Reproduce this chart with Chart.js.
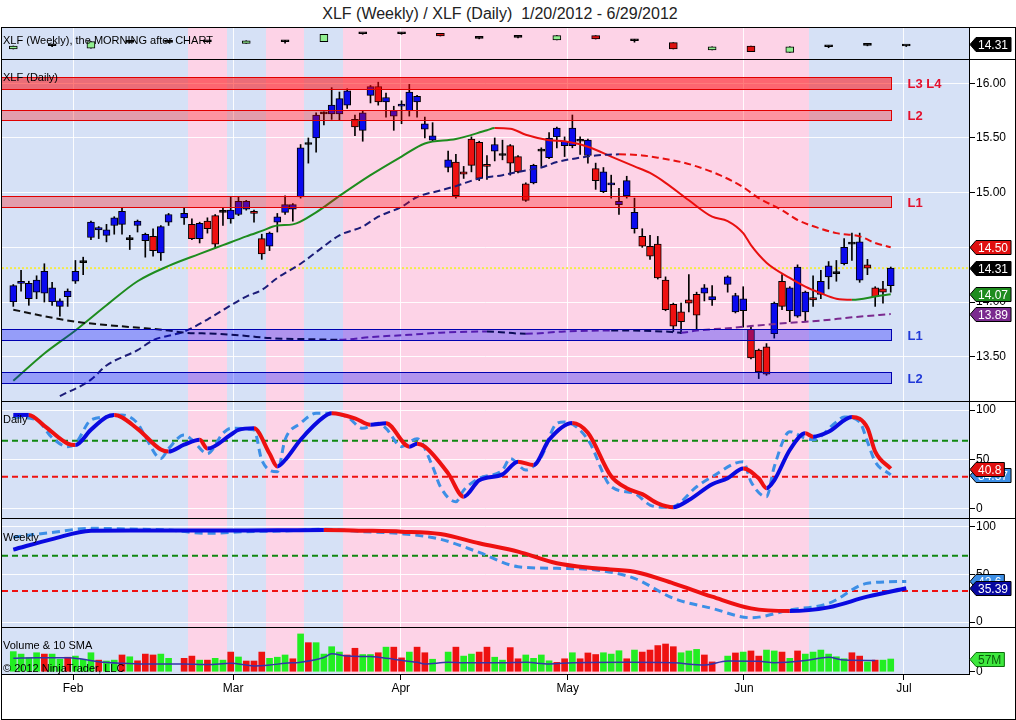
<!DOCTYPE html>
<html lang="en">
<head>
<meta charset="UTF-8">
<title>XLF (Weekly) / XLF (Daily)</title>
<script src="https://cdn.jsdelivr.net/npm/chart.js"></script>
<style>
    body { margin: 0; background: #fff; font-family: "Liberation Sans", Arial, sans-serif; }
    #wrap { position: relative; width: 1016px; height: 720px; overflow: hidden; }
    .pane { position: absolute; left: 2px; width: 1013px; }
    .sep { position: absolute; left: 1px; width: 1014px; height: 1px; background: #000; z-index: 5; }
    .lbl { position: absolute; left: 3px; font-size: 11px; line-height: 12px; color: #000; white-space: nowrap; z-index: 6; }
    #frame { position: absolute; left: 1px; top: 27px; width: 1015px; height: 693px; box-sizing: border-box; border: 1px solid #000; z-index: 5; pointer-events: none; }
    #title { position: absolute; left: 0; top: 5px; width: 1000px; text-align: center; font-size: 16px; color: #222; }
</style>
</head>
<body>
<div id="wrap">
    <div id="title">XLF (Weekly) / XLF (Daily)&nbsp; 1/20/2012 - 6/29/2012</div>
    <div class="pane" style="top:17px;height:52px"><canvas id="cWeek"></canvas></div>
    <div class="pane" style="top:49px;height:362px"><canvas id="cPrice"></canvas></div>
    <div class="pane" style="top:391px;height:137px"><canvas id="cDs"></canvas></div>
    <div class="pane" style="top:508px;height:129px"><canvas id="cWs"></canvas></div>
    <div class="pane" style="top:617px;height:103px"><canvas id="cVol"></canvas></div>
    <div id="frame"></div>
    <div class="sep" style="top:59px"></div>
    <div class="sep" style="top:401px"></div>
    <div class="sep" style="top:518px"></div>
    <div class="sep" style="top:627px"></div>
    <div class="lbl" style="top:34px">XLF (Weekly), the MORNING after CHART</div>
    <div class="lbl" style="top:71px">XLF (Daily)</div>
    <div class="lbl" style="top:413px">Daily</div>
    <div class="lbl" style="top:531px">Weekly</div>
    <div class="lbl" style="top:639px">Volume &amp; 10 SMA</div>
    <div class="lbl" style="top:662px">&copy; 2012 NinjaTrader, LLC</div>
</div>

<script>
    // calendar: one slot per weekday from 1/20/2012, holidays stay as empty slots
    const firstDay = '2012-01-20';
    const lastDay = '2012-06-27';
    const lastWeek = '2012-06-29';
    const holidays = ['2012-02-20', '2012-04-06', '2012-05-28'];

    const monthPos = [7.7, 28.3, 49.9, 71.4, 94.1, 114.7];
    const monthNames = ['Feb', 'Mar', 'Apr', 'May', 'Jun', 'Jul'];
    const priceTicks = [13.5, 14.0, 14.5, 15.0, 15.5, 16.0];
    const stochTicks = [0, 50, 100];
    const volTicks = [0];

    // daily XLF
    const dOpen = [14.00, 14.17, 14.03, 14.09, 14.08, 14.00, 13.96, 14.05, 14.19, 14.36, 14.59, 14.66, 14.61, 14.70, 14.71, 14.57, 14.70, 14.56, 14.60, 14.45, 14.73,
        14.77, 14.71, 14.58, 14.74, 14.79, 14.82, 14.76, 14.80, 14.85, 14.83, 14.58, 14.51, 14.73, 14.82, 14.85, 14.96, 15.44, 15.50, 15.72, 15.72, 15.72, 15.80, 15.67, 15.57, 15.89, 15.97, 15.83, 15.70, 15.79, 15.75, 15.83, 15.58, 15.48,
        15.23, 15.28, 15.19, 15.49, 15.46, 15.26, 15.38, 15.34, 15.43, 15.33, 15.08, 15.09, 15.38, 15.32, 15.51, 15.43, 15.43, 15.47, 15.34, 15.22, 15.01, 15.07, 14.89, 14.97, 14.67, 14.60, 14.51, 14.53, 14.20, 13.98, 13.91, 14.02, 14.07, 14.08, 14.02,
        14.16, 13.91, 13.92, 13.75, 13.56, 13.59, 13.71, 14.19, 13.92, 13.87, 13.91, 14.04, 14.07, 14.23, 14.26, 14.35, 14.53, 14.20, 14.34, 14.13, 14.12, 14.15];
    const dHigh = [14.16, 14.29, 14.19, 14.24, 14.35, 14.18, 14.03, 14.12, 14.38, 14.41, 14.74, 14.69, 14.71, 14.78, 14.86, 14.61, 14.75, 14.63, 14.67, 14.70, 14.81,
        14.86, 14.76, 14.73, 14.77, 14.80, 14.86, 14.96, 14.96, 14.93, 14.84, 14.62, 14.64, 14.81, 14.97, 14.90, 15.44, 15.50, 15.73, 15.74, 15.96, 15.92, 15.95, 15.71, 15.75, 15.98, 16.01, 15.91, 15.79, 15.84, 15.99, 15.89, 15.69, 15.64,
        15.38, 15.35, 15.24, 15.51, 15.47, 15.34, 15.50, 15.48, 15.44, 15.34, 15.09, 15.26, 15.41, 15.55, 15.60, 15.51, 15.71, 15.51, 15.49, 15.27, 15.23, 15.16, 15.04, 15.15, 14.95, 14.67, 14.61, 14.60, 14.23, 13.99, 13.99, 14.25, 14.09, 14.16, 14.15,
        14.24, 14.08, 14.14, 13.78, 13.57, 13.62, 14.00, 14.25, 14.14, 14.34, 14.10, 14.24, 14.29, 14.37, 14.38, 14.58, 14.63, 14.63, 14.39, 14.14, 14.19, 14.32];
    const dLow = [13.96, 14.10, 13.97, 14.03, 14.00, 13.97, 13.87, 13.96, 14.17, 14.25, 14.57, 14.58, 14.55, 14.62, 14.62, 14.48, 14.64, 14.41, 14.42, 14.38, 14.70,
        14.71, 14.57, 14.54, 14.63, 14.49, 14.70, 14.72, 14.79, 14.84, 14.73, 14.39, 14.47, 14.64, 14.80, 14.74, 14.95, 15.27, 15.37, 15.62, 15.67, 15.66, 15.77, 15.52, 15.47, 15.82, 15.80, 15.69, 15.57, 15.63, 15.70, 15.69, 15.50, 15.47,
        15.19, 14.95, 15.13, 15.19, 15.11, 15.12, 15.29, 15.30, 15.16, 15.18, 14.92, 15.08, 15.24, 15.31, 15.41, 15.33, 15.41, 15.35, 15.27, 15.03, 15.00, 14.95, 14.80, 14.95, 14.63, 14.50, 14.39, 14.21, 13.92, 13.73, 13.71, 13.91, 13.75, 14.01, 13.97,
        14.09, 13.90, 13.77, 13.48, 13.30, 13.33, 13.67, 13.93, 13.82, 13.86, 13.82, 13.96, 14.03, 14.12, 14.19, 14.34, 14.38, 14.18, 14.25, 13.96, 13.99, 14.09];
    const dClose = [14.15, 14.19, 14.17, 14.20, 14.28, 14.13, 14.01, 14.10, 14.28, 14.36, 14.73, 14.68, 14.66, 14.77, 14.83, 14.57, 14.74, 14.62, 14.47, 14.69, 14.80,
        14.81, 14.58, 14.72, 14.67, 14.53, 14.82, 14.84, 14.92, 14.92, 14.81, 14.44, 14.63, 14.78, 14.89, 14.89, 15.41, 15.44, 15.71, 15.72, 15.80, 15.86, 15.93, 15.60, 15.73, 15.97, 15.83, 15.87, 15.75, 15.81, 15.92, 15.88, 15.63, 15.52,
        15.30, 14.97, 15.17, 15.25, 15.13, 15.24, 15.44, 15.34, 15.27, 15.19, 14.93, 15.25, 15.38, 15.50, 15.59, 15.47, 15.59, 15.47, 15.48, 15.11, 15.19, 15.09, 14.92, 15.11, 14.82, 14.51, 14.42, 14.22, 13.93, 13.78, 13.82, 13.99, 13.88, 14.13, 14.05,
        14.23, 14.06, 14.03, 13.49, 13.36, 13.34, 13.99, 13.96, 14.13, 14.32, 14.09, 14.02, 14.19, 14.33, 14.26, 14.50, 14.53, 14.55, 14.31, 14.05, 14.09, 14.31];
    const dVol = [90, 79, 63, 85, 79, 79, 56, 65, 70, 56, 85, 52, 48, 52, 75, 67, 49, 79, 75, 79, 60,
        60, 70, 52, 52, 60, 52, 88, 66, 48, 48, 88, 60, 65, 75, 58, 169, 130, 130, 79, 112, 88, 75, 105, 77, 77, 85, 110, 110, 62, 88, 110, 85, 56,
        88, 110, 70, 79, 88, 110, 65, 52, 108, 58, 75, 60, 75, 49, 42, 58, 85, 58, 84, 77, 85, 79, 94, 58, 97, 88, 97, 117, 124, 112, 85, 93, 100, 75, 44,
        70, 84, 88, 93, 70, 97, 93, 88, 60, 93, 79, 88, 97, 79, 67, 58, 85, 70, 44, 52, 52, 57];
    const dVolDir = ['g', 'g', 'g', 'g', 'r', 'g', 'g', 'r', 'g', 'g', 'g', 'r', 'g', 'g', 'r', 'g', 'r', 'r', 'r', 'g', 'g',
        'r', 'r', 'g', 'r', 'g', 'g', 'r', 'g', 'r', 'r', 'r', 'g', 'g', 'g', 'r', 'g', 'r', 'g', 'g', 'g', 'g', 'r', 'r', 'g', 'g', 'r', 'g', 'r', 'r', 'g', 'r', 'r', 'g',
        'g', 'r', 'g', 'g', 'r', 'r', 'g', 'g', 'r', 'r', 'g', 'g', 'g', 'g', 'r', 'r', 'g', 'r', 'r', 'r', 'g', 'g', 'g', 'r', 'g', 'r', 'r', 'r', 'r', 'r', 'g', 'g', 'g', 'r', 'r',
        'g', 'r', 'g', 'r', 'r', 'g', 'g', 'r', 'g', 'r', 'g', 'g', 'g', 'g', 'g', 'g', 'r', 'r', 'g', 'r', 'g', 'g'];

    // moving averages on the daily price (slot, value)
    const ma20Slot = [0, 4, 8, 12, 16, 20, 24, 27, 30, 32, 34, 36, 39, 42, 46, 50, 53, 57, 61, 62, 64, 66, 69, 71, 74, 77, 80, 82, 84, 87, 90, 92, 94, 95, 97, 100, 102, 104, 106, 108, 109, 111, 113];
    const ma20Val = [13.28, 13.53, 13.74, 13.97, 14.19, 14.33, 14.44, 14.52, 14.60, 14.65, 14.70, 14.71, 14.82, 14.97, 15.16, 15.33, 15.45, 15.49, 15.57, 15.59, 15.585, 15.53, 15.48, 15.47, 15.42, 15.33, 15.24, 15.18, 15.09, 14.93, 14.78, 14.74, 14.63, 14.52, 14.36, 14.22, 14.14, 14.08, 14.03, 14.02, 14.025, 14.05, 14.07];
    const ma50Slot = [6, 10, 12, 16, 18, 22, 25, 28, 30, 32, 34, 37, 40, 42, 45, 47, 50, 52, 55, 57, 60, 63, 65, 68, 70, 73, 75, 78, 81, 83, 86, 88, 91, 94, 96, 99, 101, 104, 106, 109, 111, 113];
    const ma50Val = [13.14, 13.29, 13.42, 13.56, 13.65, 13.73, 13.84, 13.97, 14.05, 14.11, 14.22, 14.35, 14.51, 14.61, 14.69, 14.78, 14.87, 14.96, 15.02, 15.06, 15.13, 15.16, 15.19, 15.23, 15.28, 15.32, 15.34, 15.35, 15.34, 15.32, 15.28, 15.24, 15.16, 15.05, 14.95, 14.84, 14.75, 14.67, 14.63, 14.60, 14.54, 14.50];
    const ma200Slot = [0, 4, 8, 12, 17, 20, 22, 26, 30, 33, 38, 42, 46, 51, 55, 61, 66, 71, 77, 84, 86, 88, 92, 95, 100, 104, 108, 113];
    const ma200Val = [13.93, 13.87, 13.82, 13.79, 13.76, 13.74, 13.72, 13.71, 13.69, 13.67, 13.66, 13.655, 13.68, 13.70, 13.72, 13.73, 13.71, 13.73, 13.74, 13.73, 13.72, 13.74, 13.76, 13.78, 13.81, 13.83, 13.86, 13.89];

    // support / resistance zones
    const zoneName = ['L3', 'L4', 'L2', 'L1', 'L1', 'L2'];
    const zoneSide = ['R', 'R', 'R', 'R', 'B', 'B'];
    const zoneLo = [15.95, 15.95, 15.66, 14.87, 13.65, 13.26];
    const zoneHi = [16.06, 16.06, 15.76, 14.97, 13.75, 13.36];
    const zoneEnd = 113;

    // daily stochastics
    const dsDSlot = [0, 2, 4, 7, 8, 10, 12, 13, 16, 19, 20, 22, 24, 25, 28, 29, 31, 33, 34, 35, 37, 40, 41, 44, 46, 48, 51, 52, 53, 56, 58, 60, 63, 65, 67, 69, 72, 74, 77, 79, 81, 83, 85, 87, 90, 92, 94, 96, 97, 98, 100, 102, 103, 105, 108, 110, 111, 113];
    const dsDVal = [95, 95, 84, 66, 64.6, 80, 93, 95, 81, 60, 58, 65, 70, 61, 75, 80, 81.5, 56, 43, 49.5, 70, 93, 96.7, 91.6, 85, 86.6, 63, 66, 63, 36, 12.4, 29, 35, 47.8, 44.4, 70, 87, 77, 33, 21, 15, 5.7, 1.7, 9, 25, 31, 41, 31, 21, 29, 59.6, 76.5, 73, 78, 93, 82, 58, 40.8];
    const dsKSlot = [0, 3, 5, 7, 8, 10, 12, 14, 16, 17, 19, 20, 22, 23, 25, 27, 28, 31, 32, 34, 35, 37, 39, 41, 43, 45, 47, 48, 50, 52, 54, 55, 57, 58, 60, 63, 64, 66, 68, 70, 71, 74, 77, 80, 82, 84, 85, 88, 90, 94, 95, 97, 98, 100, 102, 103, 106, 107, 109, 110, 111, 113];
    const dsKVal = [93, 90, 72, 63, 66, 90, 93, 95, 86.6, 73, 51, 61, 74.7, 70, 56, 76.5, 81.5, 80, 49.5, 37.7, 70, 86.6, 96.7, 96.7, 93, 81.5, 86.6, 81.5, 63, 71, 43, 22.5, 7.4, 19, 31, 39.4, 51, 39.4, 52.8, 86.6, 88, 70, 22.5, 15.8, 4, 1.7, 2.3, 22.5, 32.6, 47.8, 27.6, 12.4, 42.7, 78, 71.4, 70, 88, 93, 88, 68, 47.8, 34.57];
    const dailyLevels = [69, 32.5];

    // weekly XLF and weekly stochastics (one value per Friday)
    const wOpen = [13.52, 14.04, 13.63, 14.58, 14.58, 14.67, 14.42, 14.67, 14.67, 15.94, 15.94, 16.01, 15.21, 15.37, 14.94, 15.63, 14.83, 14.52, 13.36, 13.99, 12.99, 13.88, 14.10, 13.99];
    const wHigh = [13.99, 14.20, 14.68, 14.66, 14.66, 14.75, 14.83, 14.90, 15.85, 16.02, 16.10, 16.01, 15.29, 15.45, 15.63, 15.63, 15.06, 14.52, 13.88, 13.99, 13.88, 14.04, 14.18, 14.07];
    const wLow = [13.52, 13.88, 13.63, 14.50, 14.50, 14.59, 14.42, 14.44, 14.67, 15.86, 15.86, 15.58, 15.13, 15.29, 14.94, 15.10, 14.60, 13.52, 13.36, 13.09, 12.99, 13.72, 14.02, 13.91];
    const wClose = [13.99, 14.04, 14.68, 14.58, 14.58, 14.67, 14.83, 14.67, 15.85, 15.94, 15.94, 15.58, 15.21, 15.37, 15.63, 15.10, 14.83, 13.52, 13.88, 13.09, 13.88, 13.88, 14.10, 13.99];
    const wsD = [76, 87, 95.8, 96, 96, 96, 96, 96.2, 96.5, 95.8, 94.8, 92.3, 82.6, 73.8, 61.6, 56.3, 52.8, 40.6, 26.6, 14.3, 11.5, 15.4, 26.6, 35.39];
    const wsK = [89, 94, 98.3, 97.5, 96.5, 93, 94.8, 95.5, 97.3, 94.8, 92.6, 86.8, 73, 58, 56.3, 54.6, 45.8, 24.9, 14.3, 4.5, 12.6, 19.6, 40.6, 42.6];
    const weeklyLevels = [69.5, 32.5];
    const weekShade = ['b', 'b', 'b', 'b', 'b', 'p', 'b', 'p', 'b', 'p', 'p', 'p', 'p', 'p', 'p', 'p', 'p', 'p', 'p', 'p', 'p', 'b', 'b', 'b'];

    // volume 10 SMA (slot, value in millions)
    const vsmaSlot = [0, 3, 7, 9, 11, 14, 17, 20, 22, 25, 28, 31, 33, 35, 37, 40, 41, 43, 46, 47, 49, 52, 53, 56, 58, 63, 66, 69, 72, 79, 85, 89, 92, 96, 98, 102, 105, 107, 111];
    const vsmaVal = [60, 63, 63, 56, 45, 38, 35, 35, 35, 32, 38, 26, 30, 38, 43, 64, 80, 70, 68, 65, 56, 42, 35, 42, 40, 40, 42, 35, 40, 42, 40, 30, 48, 47, 40, 50, 65, 52, 50];

    function weekdaySlots(from, to, skip) {
        const out = [];
        let d = new Date(from + 'T00:00:00Z');
        const end = new Date(to + 'T00:00:00Z');
        let slot = 0;
        while (d <= end) {
            const wd = d.getUTCDay();
            if (wd !== 0 && wd !== 6) {
                if (!skip.includes(d.toISOString().slice(0, 10))) out.push(slot);
                slot++;
            }
            d = new Date(d.getTime() + 86400000);
        }
        return out;
    }
    const dSlot = weekdaySlots(firstDay, lastDay, holidays);
    const wSlot = weekdaySlots(firstDay, lastWeek, []).filter(s => s % 5 === 0);

    const xMin = -1.455, xMax = 123.08;
    const blueBg = '#d6e1f6', pinkBg = '#fdd3e7';
    const FONT = '"Liberation Sans", Arial, sans-serif';

    Chart.defaults.font.family = FONT;
    Chart.defaults.font.size = 12;
    Chart.defaults.color = '#000';
    Chart.defaults.animation = false;
    Chart.defaults.plugins.legend.display = false;
    Chart.defaults.plugins.tooltip.enabled = false;
    Chart.defaults.elements.point.radius = 0;

    const pts = (xs, ys) => xs.map((x, i) => ({x: x, y: ys[i]}));
    const flat = (v) => [{x: xMin, y: v}, {x: xMax, y: v}];
    const slope = (up, down) => ({borderColor: c => c.p1.parsed.y >= c.p0.parsed.y ? up : down});

    function candles(slots, o, h, l, c, upCol, downCol, width) {
        const fill = o.map((v, i) => c[i] > v ? upCol : (c[i] < v ? downCol : '#000'));
        return [
            {type: 'bar', data: slots.map((s, i) => ({x: s, y: [o[i], c[i]]})), backgroundColor: fill,
                borderColor: '#000', borderWidth: 1, borderSkipped: false, barThickness: width, minBarLength: 2, grouped: false, order: 2},
            {type: 'bar', data: slots.map((s, i) => ({x: s, y: [l[i], h[i]]})), backgroundColor: '#000',
                barThickness: 1, grouped: false, order: 3}
        ];
    }

    function xAxis(show) {
        return {
            type: 'linear', min: xMin, max: xMax, offset: false,
            afterBuildTicks: s => { s.ticks = monthPos.map(v => ({value: v})); },
            ticks: {display: show, autoSkip: false, maxRotation: 0, padding: 1, callback: (v, i) => monthNames[i]},
            grid: {color: 'rgba(255,255,255,0.9)', offset: false, drawTicks: show, tickLength: 6, tickColor: '#000'},
            border: {display: show, color: '#000'},
            afterFit: s => { s.height = show ? 46 : 0; }
        };
    }

    function yAxis(min, max, ticks, fmt, grid) {
        return {
            type: 'linear', position: 'right', min: min, max: max,
            afterBuildTicks: s => { s.ticks = ticks.map(v => ({value: v})); },
            ticks: {display: ticks.length > 0, padding: 1, callback: fmt},
            grid: {color: grid ? 'rgba(255,255,255,0.9)' : 'rgba(0,0,0,0)', drawTicks: ticks.length > 0, tickLength: 6, tickColor: '#000'},
            border: {color: '#000'},
            afterFit: s => { s.width = 46; }
        };
    }

    const shadePlugin = {
        id: 'shade',
        beforeDraw(chart) {
            const {ctx, chartArea: a, scales: {x}} = chart;
            ctx.save();
            weekShade.forEach((s, k) => {
                const l = k === 0 ? a.left : Math.round(x.getPixelForValue(wSlot[k] - 2.5));
                const r = k === weekShade.length - 1 ? a.right : Math.round(x.getPixelForValue(wSlot[k] + 2.5));
                ctx.fillStyle = s === 'p' ? pinkBg : blueBg;
                ctx.fillRect(l, a.top, r - l, a.bottom - a.top);
            });
            ctx.restore();
        }
    };

    function tagPlugin(tags) {
        return {
            id: 'tags',
            afterDraw(chart) {
                const ctx = chart.ctx, ys = chart.scales.y, x0 = chart.chartArea.right + 1;
                ctx.save();
                ctx.font = '12px ' + FONT;
                tags.forEach(t => {
                    const y = Math.round(ys.getPixelForValue(t.value)) + 0.5;
                    const w = ctx.measureText(t.text).width + 5;
                    ctx.beginPath();
                    ctx.moveTo(x0, y);
                    ctx.lineTo(x0 + 6, y - 7);
                    ctx.lineTo(x0 + 6 + w, y - 7);
                    ctx.lineTo(x0 + 6 + w, y + 7);
                    ctx.lineTo(x0 + 6, y + 7);
                    ctx.closePath();
                    ctx.fillStyle = t.bg;
                    ctx.fill();
                    ctx.strokeStyle = t.edge || '#000';
                    ctx.lineWidth = 1;
                    ctx.stroke();
                    ctx.fillStyle = t.fg;
                    ctx.textBaseline = 'middle';
                    ctx.fillText(t.text, x0 + 8, y + 1);
                });
                ctx.restore();
            }
        };
    }

    const zonePlugin = {
        id: 'zones',
        afterDatasetsDraw(chart) {
            const {ctx, chartArea: a, scales: {x, y}} = chart;
            const right = Math.round(x.getPixelForValue(zoneEnd)) + 0.5;
            const labels = {};
            ctx.save();
            zoneLo.forEach((lo, i) => {
                const top = Math.round(y.getPixelForValue(zoneHi[i])) + 0.5;
                const bot = Math.round(y.getPixelForValue(lo)) + 0.5;
                const red = zoneSide[i] === 'R';
                ctx.fillStyle = red ? 'rgba(255,0,0,0.3)' : 'rgba(0,0,255,0.3)';
                ctx.fillRect(a.left, top, right - a.left, bot - top);
                ctx.strokeStyle = red ? '#e00000' : '#0000b0';
                ctx.lineWidth = 1;
                ctx.strokeRect(a.left - 2, top, right - a.left + 2, bot - top);
                const key = lo + '_' + zoneHi[i];
                if (!labels[key]) labels[key] = {y: (top + bot) / 2, red: red, names: []};
                labels[key].names.push(zoneName[i]);
            });
            ctx.font = 'bold 13px ' + FONT;
            ctx.textBaseline = 'middle';
            Object.values(labels).forEach(l => {
                ctx.fillStyle = l.red ? '#e4102c' : '#2039d8';
                ctx.fillText(l.names.join(' '), right + 16, l.y + 1);
            });
            ctx.restore();
        }
    };

    function panel(id, datasets, y, plugins, showX) {
        return new Chart(document.getElementById(id), {
            type: 'bar',
            data: {datasets: datasets},
            options: {
                responsive: true,
                maintainAspectRatio: false,
                layout: {padding: {top: 10, bottom: showX ? 0 : 10, left: 0, right: 0}},
                scales: {x: xAxis(showX), y: y}
            },
            plugins: [shadePlugin].concat(plugins)
        });
    }

    const lastClose = dClose[dClose.length - 1];
    const two = v => v.toFixed(2);

    // weekly candles
    panel('cWeek',
        candles(wSlot, wOpen, wHigh, wLow, wClose, '#90ee90', '#dd1111', 8),
        yAxis(11.93, 17.01, [], two, false),
        [tagPlugin([{value: lastClose, bg: '#000', fg: '#fff', text: two(lastClose)}])],
        false);

    // daily candles with moving averages and zones
    panel('cPrice',
        [
            {type: 'line', data: flat(lastClose), borderColor: '#f2ea4a', borderWidth: 2, borderDash: [2, 2], order: 9},
            {type: 'line', data: pts(ma200Slot, ma200Val), borderWidth: 2, borderDash: [7, 4], cubicInterpolationMode: 'monotone',
                segment: slope('#7b2a8f', '#111111'), order: 1},
            {type: 'line', data: pts(ma50Slot, ma50Val), borderWidth: 2, borderDash: [7, 4], cubicInterpolationMode: 'monotone',
                segment: slope('#1c1c78', '#e81010'), order: 1},
            {type: 'line', data: pts(ma20Slot, ma20Val), borderWidth: 2, cubicInterpolationMode: 'monotone',
                segment: slope('#1e8c1e', '#e81010'), order: 1}
        ].concat(candles(dSlot, dOpen, dHigh, dLow, dClose, '#0a0aee', '#ee1111', 7)),
        yAxis(13.095, 16.222, priceTicks, two, true),
        [zonePlugin, tagPlugin([
            {value: ma50Val[ma50Val.length - 1], bg: '#e01010', fg: '#fff', text: two(ma50Val[ma50Val.length - 1])},
            {value: ma200Val[ma200Val.length - 1], bg: '#7b2a8f', fg: '#fff', text: two(ma200Val[ma200Val.length - 1])},
            {value: ma20Val[ma20Val.length - 1], bg: '#1e8c1e', fg: '#fff', text: two(ma20Val[ma20Val.length - 1])},
            {value: lastClose, bg: '#000', fg: '#fff', text: two(lastClose)}
        ])],
        false);

    function stochSets(levels, kPts, dPts) {
        return [
            {type: 'line', data: flat(levels[0]), borderColor: '#118811', borderWidth: 2, borderDash: [6, 4], order: 8},
            {type: 'line', data: flat(levels[1]), borderColor: '#ee1111', borderWidth: 2, borderDash: [6, 4], order: 8},
            {type: 'line', data: kPts, borderColor: '#3d8fe6', borderWidth: 3, borderDash: [8, 5], cubicInterpolationMode: 'monotone', order: 2},
            {type: 'line', data: dPts, borderWidth: 4, cubicInterpolationMode: 'monotone', segment: slope('#0a0ae0', '#ee1111'), order: 1}
        ];
    }

    panel('cDs',
        stochSets(dailyLevels, pts(dsKSlot, dsKVal), pts(dsDSlot, dsDVal)),
        yAxis(-9.1, 109.1, stochTicks, v => String(v), true),
        [tagPlugin([
            {value: dsKVal[dsKVal.length - 1], bg: '#3d8fe6', fg: '#fff', text: String(dsKVal[dsKVal.length - 1])},
            {value: dsDVal[dsDVal.length - 1], bg: '#e01010', fg: '#fff', text: String(dsDVal[dsDVal.length - 1])}
        ])],
        false);

    panel('cWs',
        stochSets(weeklyLevels, pts(wSlot, wsK), pts(wSlot, wsD)),
        yAxis(-5.2, 109.1, stochTicks, v => String(v), true),
        [tagPlugin([
            {value: wsK[wsK.length - 1], bg: '#3d8fe6', fg: '#fff', text: String(wsK[wsK.length - 1])},
            {value: wsD[wsD.length - 1], bg: '#0808a0', fg: '#fff', text: String(wsD[wsD.length - 1])}
        ])],
        false);

    const lastVol = dVol[dVol.length - 1];
    panel('cVol',
        [
            {type: 'line', data: pts(vsmaSlot, vsmaVal), borderColor: '#3333aa', borderWidth: 1.5, cubicInterpolationMode: 'monotone', order: 1},
            {type: 'bar', data: pts(dSlot, dVol), backgroundColor: dVolDir.map(d => d === 'g' ? '#22ee22' : '#ee1111'),
                barThickness: 6, grouped: false, order: 2}
        ],
        yAxis(-10, 200, volTicks, v => String(v), false),
        [tagPlugin([{value: lastVol, bg: '#3ee83e', fg: '#0a5a0a', edge: '#0a6a0a', text: lastVol + 'M'}])],
        true);
</script>
</body>
</html>
